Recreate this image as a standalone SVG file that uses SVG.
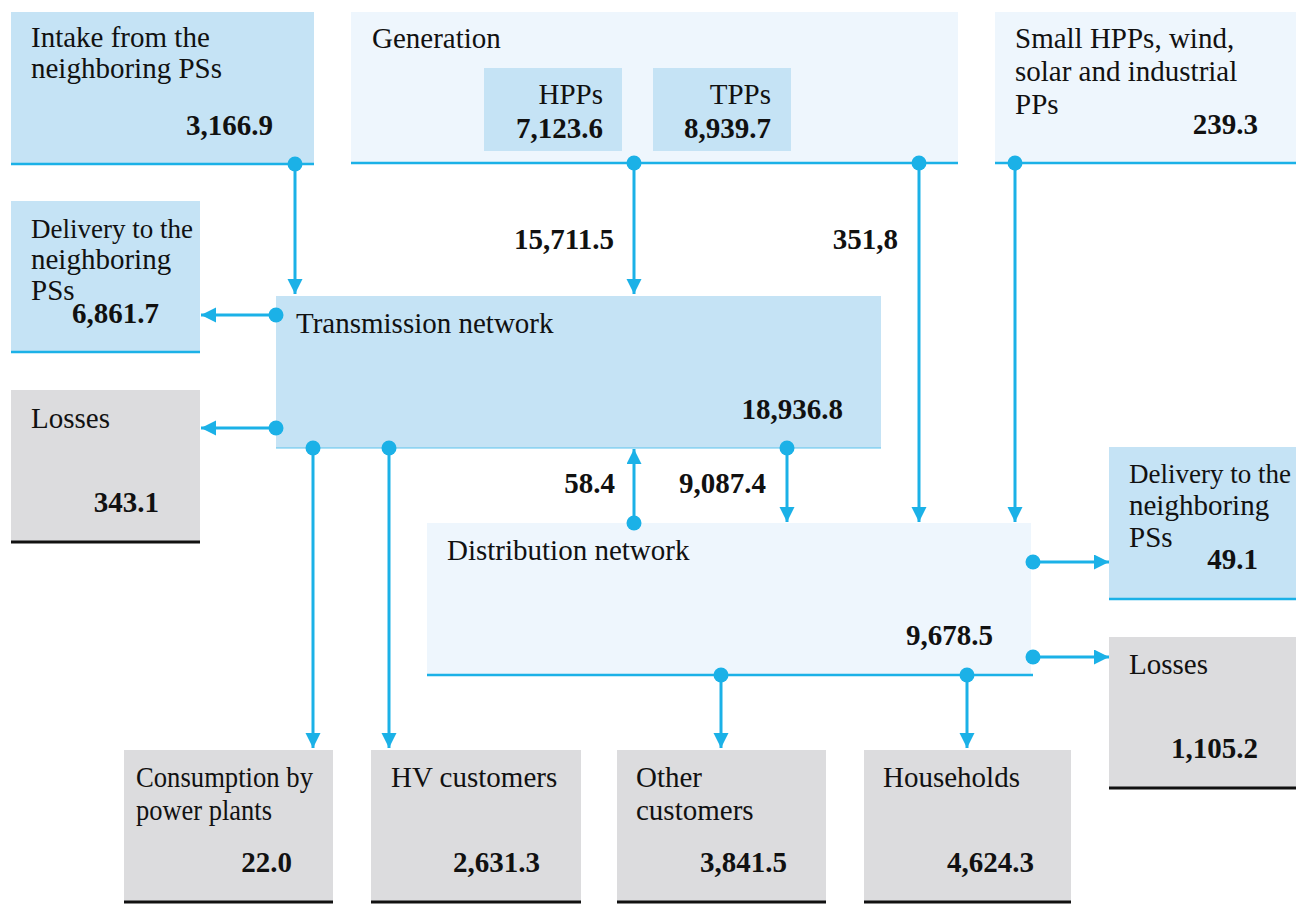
<svg xmlns="http://www.w3.org/2000/svg" width="1296" height="915" viewBox="0 0 1296 915">
  <style>
    .t { font-family: "Liberation Serif", "Times New Roman", serif; font-size: 29px; fill: #111; }
    .n { font-family: "Liberation Serif", "Times New Roman", serif; font-size: 29px; font-weight: bold; fill: #111; text-anchor: end; }
    .tight { font-size: 27px; }
    .blue { fill: #c5e3f5; }
    .pale { fill: #eef6fd; }
    .grey { fill: #dcdcde; }
    .edge-b { stroke: #1bb1e7; stroke-width: 2.5; fill: none; }
    .edge-k { stroke: #111; stroke-width: 3; fill: none; }
    .edge-thin { stroke: #5cc4ee; stroke-width: 1.2; fill: none; }
    .flow { stroke: #1bb1e7; stroke-width: 3; fill: none; marker-start: url(#dot); marker-end: url(#head); }
  </style>
  <defs>
    <marker id="head" markerUnits="userSpaceOnUse" markerWidth="16" markerHeight="16" refX="15" refY="7.5" orient="auto">
      <path d="M0,0 L15,7.5 L0,15 Z" fill="#1bb1e7"/>
    </marker>
    <marker id="dot" markerUnits="userSpaceOnUse" markerWidth="16" markerHeight="16" refX="8" refY="8" orient="auto">
      <circle cx="8" cy="8" r="7.5" fill="#1bb1e7"/>
    </marker>
  </defs>
  <rect width="1296" height="915" fill="#ffffff"/>

  <!-- imports from neighbours -->
  <g id="intake">
    <rect class="blue" x="11" y="12" width="303" height="152"/>
    <line class="edge-b" x1="11" y1="164" x2="314" y2="164"/>
    <text class="t" x="31" y="47">Intake from the</text>
    <text class="t" x="31" y="78">neighboring PSs</text>
    <text class="n" x="273" y="135">3,166.9</text>
  </g>

  <!-- generation with HPP / TPP breakdown -->
  <g id="generation">
    <rect class="pale" x="351" y="12" width="607" height="151"/>
    <line class="edge-b" x1="351" y1="163" x2="958" y2="163"/>
    <text class="t" x="372" y="48">Generation</text>
    <rect class="blue" x="484" y="68" width="138" height="83"/>
    <text class="t" x="603" y="104" text-anchor="end">HPPs</text>
    <text class="n" x="603" y="138">7,123.6</text>
    <rect class="blue" x="653" y="68" width="138" height="83"/>
    <text class="t" x="771" y="104" text-anchor="end">TPPs</text>
    <text class="n" x="771" y="138">8,939.7</text>
  </g>

  <g id="small-plants">
    <rect class="pale" x="995" y="12" width="301" height="151"/>
    <line class="edge-b" x1="995" y1="163" x2="1296" y2="163"/>
    <text class="t" x="1015" y="48">Small HPPs, wind,</text>
    <text class="t" x="1015" y="81">solar and industrial</text>
    <text class="t" x="1015" y="114">PPs</text>
    <text class="n" x="1258" y="134">239.3</text>
  </g>

  <g id="delivery-tn">
    <rect class="blue" x="11" y="201" width="189" height="152"/>
    <line class="edge-b" x1="11" y1="352" x2="200" y2="352"/>
    <text class="t tight" x="31" y="238">Delivery to the</text>
    <text class="t" x="31" y="269">neighboring</text>
    <text class="t" x="31" y="300">PSs</text>
    <text class="n" x="159" y="323">6,861.7</text>
  </g>

  <g id="losses-tn">
    <rect class="grey" x="11" y="390" width="189" height="152"/>
    <line class="edge-k" x1="11" y1="542" x2="200" y2="542"/>
    <text class="t" x="31" y="428">Losses</text>
    <text class="n" x="159" y="512">343.1</text>
  </g>

  <g id="transmission">
    <rect class="blue" x="276" y="296" width="605" height="152"/>
    <line class="edge-thin" x1="276" y1="448" x2="881" y2="448"/>
    <text class="t" x="296" y="333">Transmission network</text>
    <text class="n" x="843" y="419">18,936.8</text>
  </g>

  <g id="distribution">
    <rect class="pale" x="427" y="523" width="604" height="152"/>
    <line class="edge-b" x1="427" y1="675" x2="1033" y2="675"/>
    <text class="t" x="447" y="560">Distribution network</text>
    <text class="n" x="993" y="645">9,678.5</text>
  </g>

  <g id="delivery-dn">
    <rect class="blue" x="1109" y="447" width="187" height="152"/>
    <line class="edge-b" x1="1109" y1="599" x2="1296" y2="599"/>
    <text class="t tight" x="1129" y="483">Delivery to the</text>
    <text class="t" x="1129" y="515">neighboring</text>
    <text class="t" x="1129" y="547">PSs</text>
    <text class="n" x="1258" y="569">49.1</text>
  </g>

  <g id="losses-dn">
    <rect class="grey" x="1109" y="637" width="187" height="151"/>
    <line class="edge-k" x1="1109" y1="788" x2="1296" y2="788"/>
    <text class="t" x="1129" y="674">Losses</text>
    <text class="n" x="1258" y="758">1,105.2</text>
  </g>

  <g id="power-plants">
    <rect class="grey" x="124" y="750" width="209" height="152"/>
    <line class="edge-k" x1="124" y1="902" x2="333" y2="902"/>
    <text class="t" x="136" y="787" textLength="177" lengthAdjust="spacingAndGlyphs">Consumption by</text>
    <text class="t" x="136" y="820" textLength="136" lengthAdjust="spacingAndGlyphs">power plants</text>
    <text class="n" x="292" y="872">22.0</text>
  </g>

  <g id="hv-customers">
    <rect class="grey" x="371" y="750" width="210" height="152"/>
    <line class="edge-k" x1="371" y1="902" x2="581" y2="902"/>
    <text class="t" x="391" y="787">HV customers</text>
    <text class="n" x="540" y="872">2,631.3</text>
  </g>

  <g id="other-customers">
    <rect class="grey" x="617" y="750" width="209" height="152"/>
    <line class="edge-k" x1="617" y1="902" x2="826" y2="902"/>
    <text class="t" x="636" y="787">Other</text>
    <text class="t" x="636" y="820">customers</text>
    <text class="n" x="787" y="872">3,841.5</text>
  </g>

  <g id="households">
    <rect class="grey" x="864" y="750" width="207" height="152"/>
    <line class="edge-k" x1="864" y1="902" x2="1071" y2="902"/>
    <text class="t" x="883" y="787">Households</text>
    <text class="n" x="1034" y="872">4,624.3</text>
  </g>

  <!-- energy flows: dot at the source, arrowhead at the receiver -->
  <g id="flows">
    <path class="flow" d="M295,164 V294"/>
    <path class="flow" d="M634,163 V294"/>
    <path class="flow" d="M919,163 V522"/>
    <path class="flow" d="M1015,163 V522"/>
    <path class="flow" d="M276,315 H201"/>
    <path class="flow" d="M276,428 H201"/>
    <path class="flow" d="M313,448 V748"/>
    <path class="flow" d="M389,448 V748"/>
    <path class="flow" d="M634,523 V449"/>
    <path class="flow" d="M787,448 V522"/>
    <path class="flow" d="M1033,562 H1109"/>
    <path class="flow" d="M1033,657 H1109"/>
    <path class="flow" d="M721,675 V748"/>
    <path class="flow" d="M967,675 V748"/>
    <text class="n" x="614" y="249">15,711.5</text>
    <text class="n" x="898" y="249">351,8</text>
    <text class="n" x="615" y="493">58.4</text>
    <text class="n" x="766" y="493">9,087.4</text>
  </g>
</svg>
